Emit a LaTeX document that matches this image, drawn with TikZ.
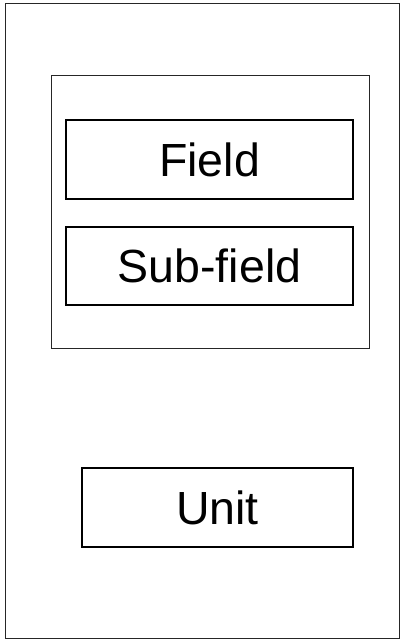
\documentclass[tikz,border=0pt]{standalone}
\usepackage{fontspec}
\setmainfont{Liberation Sans}
\begin{document}
\begin{tikzpicture}[x=1pt,y=-1pt,
  frame/.style={draw=black!85, line width=0.9pt, inner sep=0pt, outer sep=0pt},
  box/.style={draw=black, line width=1.4pt, inner sep=0pt, outer sep=0pt,
    font=\fontsize{46.5}{50}\selectfont}]
  \useasboundingbox (0,0) rectangle (402,640);
  % outer page frame
  \node[frame, minimum width=393.5pt, minimum height=635pt] (page) at (202.25,321) {};
  % group frame holding the field boxes
  \node[frame, minimum width=318pt, minimum height=273pt] (group) at (210,211.5) {};
  \node[box, minimum width=287pt, minimum height=79pt] (field) at (209.5,159.5) {Field};
  \node[box, minimum width=287pt, minimum height=78pt] (subfield) at (209.5,266) {Sub-field};
  \node[box, minimum width=271pt, minimum height=79pt] (unit) at (217.5,507.5) {Unit};
\end{tikzpicture}
\end{document}
